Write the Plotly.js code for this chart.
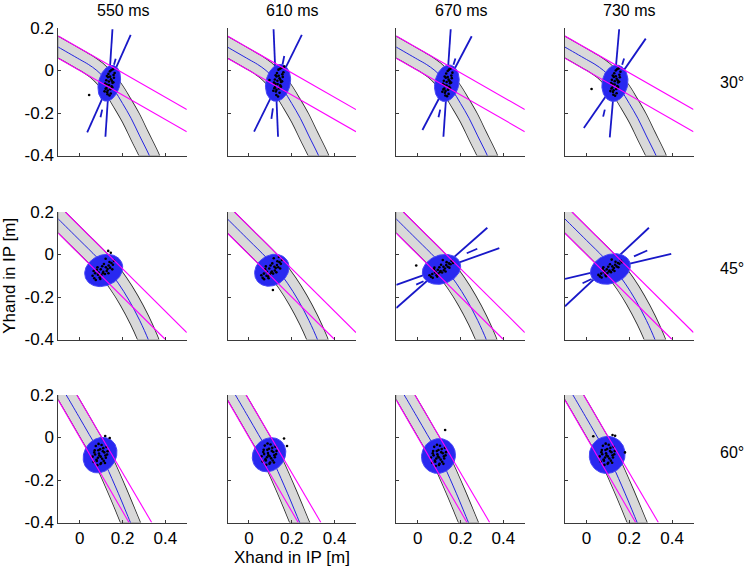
<!DOCTYPE html>
<html><head><meta charset="utf-8">
<script src="https://cdn.plot.ly/plotly-3.0.1.min.js"></script>
<style>html,body{margin:0;padding:0;background:#fff}#chart{width:748px;height:578px}</style>
</head><body><div id="chart"></div><script>
// ---------- labels / ticks ----------
const timeLabels = ['550 ms', '610 ms', '670 ms', '730 ms'];
const angleLabels = ['30°', '45°', '60°'];
const xTickVals = [0, 0.2, 0.4];
const xTickText = ['0', '0.2', '0.4'];
const yTickVals = [-0.4, -0.2, 0, 0.2];
const yTickText = ['-0.4', '-0.2', '0', '0.2'];
const xRange = [-0.1, 0.5];
const yRange = [-0.4, 0.2];

// ---------- corridor (band) centre lines, per target angle ----------
const bandX_30 = [-0.13, -0.1, 0.0, 0.04, 0.08, 0.12, 0.16, 0.2, 0.24, 0.28, 0.325, 0.345];
const bandY_30 = [0.127, 0.11, 0.052, 0.029, 0.0, -0.04, -0.09, -0.155, -0.225, -0.308, -0.4, -0.45];
const bandX_45 = [-0.13, -0.1, 0.0, 0.08, 0.13, 0.18, 0.23, 0.28, 0.32, 0.335];
const bandY_45 = [0.197, 0.167, 0.067, -0.013, -0.068, -0.135, -0.215, -0.31, -0.4, -0.44];
const bandX_60 = [-0.081, -0.063, -0.005, 0.045, 0.086, 0.122, 0.18, 0.237, 0.25];
const bandY_60 = [0.23, 0.2, 0.1, 0.013, -0.058, -0.13, -0.262, -0.4, -0.43];

// ---------- magenta boundary lines (two per angle: [x0,y0,x1,y1]) ----------
const magenta_30 = [[-0.1, 0.162, 0.5, -0.184], [-0.1, 0.058, 0.5, -0.288]];
const magenta_45 = [[-0.067, 0.2, 0.5, -0.367], [-0.1, 0.1, 0.4, -0.4]];
const magenta_60 = [[-0.1, 0.176, 0.23, -0.4], [-0.013, 0.2, 0.336, -0.4]];

// ---------- ellipses per panel: [cx, cy, semi-major, semi-minor, angle deg] ----------
const ell_30 = [[0.138, -0.06, 0.086, 0.05, 76], [0.136, -0.058, 0.088, 0.057, 78], [0.136, -0.06, 0.087, 0.056, 78], [0.133, -0.06, 0.086, 0.06, 80]];
const ell_45 = [[0.112, -0.075, 0.092, 0.072, 25], [0.107, -0.074, 0.085, 0.07, 35], [0.111, -0.07, 0.092, 0.067, 20], [0.112, -0.068, 0.096, 0.068, 20]];
const ell_60 = [[0.095, -0.083, 0.088, 0.074, 55], [0.094, -0.081, 0.085, 0.073, 50], [0.097, -0.087, 0.083, 0.078, 60], [0.097, -0.082, 0.088, 0.083, 70]];

// ---------- direction lines per panel: [x0,y0,x1,y1] ----------
const seg_30_550 = [[0.153, 0.194, 0.12, -0.312], [0.238, 0.168, 0.035, -0.291], [0.168, 0.055, 0.16, 0.027], [0.105, -0.184, 0.097, -0.22]];
const seg_30_610 = [[0.115, 0.194, 0.136, -0.312], [0.247, 0.168, 0.024, -0.288], [0.165, 0.068, 0.157, 0.028], [0.112, -0.178, 0.105, -0.228]];
const seg_30_670 = [[0.154, 0.194, 0.12, -0.312], [0.252, 0.161, 0.022, -0.28], [0.176, 0.057, 0.167, 0.027], [0.105, -0.184, 0.097, -0.22]];
const seg_30_730 = [[0.153, 0.194, 0.109, -0.315], [0.277, 0.15, -0.012, -0.271], [0.176, 0.057, 0.167, 0.027], [0.086, -0.184, 0.078, -0.217]];
const seg_45_670 = [[-0.1, -0.252, 0.325, 0.126], [-0.1, -0.143, 0.381, 0.03], [0.229, 0.006, 0.278, 0.027], [-0.007, -0.142, 0.027, -0.126]];
const seg_45_730 = [[-0.1, -0.244, 0.292, 0.126], [-0.1, -0.115, 0.396, 0.003], [0.222, -0.009, 0.284, 0.019], [-0.018, -0.135, 0.024, -0.115]];

// ---------- endpoint samples (black dots) per panel ----------
const dx11 = [0.125,0.132,0.141,0.150,0.158,0.128,0.137,0.146,0.155,0.119,0.130,0.143,0.160,0.134,0.149,0.124,0.139,0.153,0.121,0.163,0.116,0.127,0.145,0.136,0.152,0.131,0.148,0.126,0.157,0.142,0.044];
const dy11 = [-0.082,-0.031,-0.004,-0.048,-0.021,-0.102,-0.068,-0.041,0.006,-0.061,-0.112,-0.088,-0.034,-0.016,-0.074,-0.046,-0.118,-0.058,-0.086,-0.012,-0.098,-0.026,-0.108,-0.052,-0.079,-0.094,0.002,-0.066,-0.055,-0.029,-0.115];
const dx12 = [0.122,0.129,0.138,0.147,0.156,0.126,0.134,0.143,0.152,0.117,0.128,0.141,0.158,0.131,0.146,0.121,0.136,0.150,0.119,0.161,0.114,0.125,0.143,0.133,0.150,0.129,0.145,0.124,0.155,0.139,0.096,0.165];
const dy12 = [-0.078,-0.028,0.004,-0.044,-0.018,-0.099,-0.064,-0.037,0.012,-0.057,-0.115,-0.085,-0.03,-0.012,-0.07,-0.042,-0.122,-0.054,-0.083,-0.008,-0.095,-0.022,-0.105,-0.048,-0.076,-0.091,0.008,-0.062,-0.051,-0.025,-0.045,0.018];
const dx13 = [0.124,0.131,0.140,0.149,0.157,0.127,0.135,0.144,0.153,0.118,0.129,0.142,0.159,0.133,0.147,0.122,0.137,0.151,0.120,0.162,0.115,0.126,0.144,0.135,0.151,0.130,0.146,0.125,0.156,0.140];
const dy13 = [-0.085,-0.034,-0.002,-0.05,-0.024,-0.105,-0.071,-0.043,0.008,-0.063,-0.118,-0.09,-0.036,-0.014,-0.077,-0.048,-0.121,-0.06,-0.089,-0.01,-0.1,-0.028,-0.11,-0.054,-0.082,-0.096,0.004,-0.068,-0.057,-0.031];
const dx14 = [0.121,0.128,0.137,0.146,0.154,0.124,0.132,0.141,0.150,0.115,0.126,0.139,0.156,0.130,0.144,0.119,0.134,0.148,0.117,0.159,0.112,0.123,0.141,0.132,0.148,0.127,0.143,0.122,0.153,0.137,0.024];
const dy14 = [-0.08,-0.03,0.0,-0.046,-0.02,-0.101,-0.066,-0.039,0.01,-0.059,-0.114,-0.087,-0.032,-0.013,-0.073,-0.044,-0.119,-0.056,-0.085,-0.006,-0.097,-0.024,-0.107,-0.05,-0.078,-0.093,0.006,-0.064,-0.053,-0.027,-0.087];
const dx21 = [0.06,0.072,0.085,0.098,0.11,0.122,0.135,0.148,0.16,0.068,0.08,0.093,0.105,0.118,0.13,0.142,0.155,0.075,0.088,0.1,0.113,0.126,0.139,0.152,0.083,0.096,0.108,0.121,0.134,0.065,0.133,0.145];
const dy21 = [-0.1,-0.088,-0.095,-0.07,-0.082,-0.06,-0.052,-0.04,-0.03,-0.112,-0.072,-0.108,-0.055,-0.092,-0.068,-0.062,-0.048,-0.12,-0.085,-0.098,-0.045,-0.078,-0.035,-0.07,-0.06,-0.115,-0.088,-0.02,-0.088,-0.078,0.017,0.008];
const dx22 = [0.058,0.07,0.082,0.095,0.107,0.119,0.131,0.143,0.154,0.064,0.076,0.089,0.101,0.113,0.125,0.137,0.149,0.071,0.084,0.096,0.109,0.121,0.133,0.146,0.079,0.092,0.104,0.116,0.128,0.112,0.14];
const dy22 = [-0.098,-0.09,-0.1,-0.066,-0.08,-0.058,-0.05,-0.036,-0.026,-0.11,-0.07,-0.104,-0.052,-0.09,-0.064,-0.06,-0.044,-0.116,-0.082,-0.094,-0.042,-0.075,-0.032,-0.066,-0.056,-0.112,-0.086,-0.018,-0.084,-0.167,-0.012];
const dx23 = [0.055,0.068,0.081,0.094,0.107,0.12,0.133,0.146,0.158,0.062,0.075,0.088,0.101,0.114,0.127,0.14,0.153,0.07,0.083,0.096,0.109,0.122,0.135,0.148,0.078,0.091,0.104,0.117,0.13,0.165,-0.007];
const dy23 = [-0.098,-0.092,-0.085,-0.072,-0.078,-0.058,-0.05,-0.042,-0.03,-0.105,-0.07,-0.098,-0.06,-0.085,-0.066,-0.058,-0.046,-0.11,-0.08,-0.09,-0.048,-0.074,-0.036,-0.062,-0.062,-0.104,-0.082,-0.026,-0.08,-0.04,-0.052];
const dx24 = [0.056,0.069,0.082,0.095,0.108,0.121,0.134,0.147,0.16,0.063,0.076,0.089,0.102,0.115,0.128,0.141,0.154,0.071,0.084,0.097,0.11,0.123,0.136,0.149,0.079,0.092,0.105,0.118,0.131,0.166];
const dy24 = [-0.096,-0.09,-0.083,-0.07,-0.076,-0.056,-0.048,-0.04,-0.028,-0.103,-0.068,-0.096,-0.058,-0.083,-0.064,-0.056,-0.044,-0.108,-0.078,-0.088,-0.046,-0.072,-0.034,-0.06,-0.06,-0.102,-0.08,-0.024,-0.078,-0.036];
const dx31 = [0.06,0.07,0.08,0.09,0.1,0.11,0.12,0.13,0.065,0.075,0.085,0.095,0.105,0.115,0.125,0.072,0.082,0.092,0.102,0.112,0.122,0.068,0.078,0.088,0.098,0.108,0.118,0.128,0.087,0.097,0.119,0.14];
const dy31 = [-0.09,-0.06,-0.11,-0.075,-0.12,-0.05,-0.085,-0.065,-0.115,-0.04,-0.095,-0.055,-0.1,-0.07,-0.045,-0.08,-0.13,-0.085,-0.035,-0.11,-0.095,-0.07,-0.105,-0.03,-0.09,-0.065,-0.12,-0.08,-0.06,-0.125,0.007,-0.002];
const dx32 = [0.059,0.069,0.079,0.089,0.099,0.109,0.119,0.129,0.064,0.074,0.084,0.094,0.104,0.114,0.124,0.071,0.081,0.091,0.101,0.111,0.121,0.067,0.077,0.087,0.097,0.107,0.117,0.127,0.086,0.096,0.164,0.178];
const dy32 = [-0.088,-0.058,-0.108,-0.073,-0.118,-0.048,-0.083,-0.063,-0.113,-0.038,-0.093,-0.053,-0.098,-0.068,-0.043,-0.078,-0.128,-0.083,-0.033,-0.108,-0.093,-0.068,-0.103,-0.028,-0.088,-0.063,-0.118,-0.078,-0.058,-0.123,-0.005,-0.04];
const dx33 = [0.062,0.072,0.082,0.092,0.102,0.112,0.122,0.132,0.067,0.077,0.087,0.097,0.107,0.117,0.127,0.074,0.084,0.094,0.104,0.114,0.124,0.07,0.08,0.09,0.1,0.11,0.12,0.13,0.089,0.099,0.128];
const dy33 = [-0.094,-0.064,-0.114,-0.079,-0.124,-0.054,-0.089,-0.069,-0.119,-0.044,-0.099,-0.059,-0.104,-0.074,-0.049,-0.084,-0.134,-0.089,-0.039,-0.114,-0.099,-0.074,-0.109,-0.034,-0.094,-0.069,-0.124,-0.084,-0.064,-0.129,0.035];
const dx34 = [0.062,0.072,0.082,0.092,0.102,0.112,0.122,0.132,0.067,0.077,0.087,0.097,0.107,0.117,0.127,0.074,0.084,0.094,0.104,0.114,0.124,0.07,0.08,0.09,0.1,0.11,0.12,0.13,0.089,0.099,0.032,0.122,0.134,0.18];
const dy34 = [-0.089,-0.059,-0.109,-0.074,-0.119,-0.049,-0.084,-0.064,-0.114,-0.039,-0.094,-0.054,-0.099,-0.069,-0.044,-0.079,-0.129,-0.084,-0.034,-0.109,-0.094,-0.069,-0.104,-0.029,-0.089,-0.064,-0.119,-0.079,-0.059,-0.124,0.006,0.012,0.008,-0.07];

// ---------- assemble ----------
const bands = [[bandX_30, bandY_30], [bandX_45, bandY_45], [bandX_60, bandY_60]];
const magentas = [magenta_30, magenta_45, magenta_60];
const ellipses = [ell_30, ell_45, ell_60];
const segments = [[seg_30_550, seg_30_610, seg_30_670, seg_30_730], [[], [], seg_45_670, seg_45_730], [[], [], [], []]];
const dots = [[[dx11, dy11], [dx12, dy12], [dx13, dy13], [dx14, dy14]],
              [[dx21, dy21], [dx22, dy22], [dx23, dy23], [dx24, dy24]],
              [[dx31, dy31], [dx32, dy32], [dx33, dy33], [dx34, dy34]]];

const W = 748, H = 578;
const colLeft = [58.3, 227.5, 396.3, 565];
const plotW = 128.5;
const rowTop = [28, 212, 395];
const plotH = 127.5;
const bandPx = [18.2, 19.2, 17.8];
const FONT = 'Liberation Sans, Arial, Helvetica, sans-serif';

function segXY(list) {
  const x = [], y = [];
  list.forEach(s => { x.push(s[0], s[2], null); y.push(s[1], s[3], null); });
  return [x, y];
}
function ellipseXY(e) {
  const [cx, cy, a, b, ang] = e; const t = ang * Math.PI / 180;
  const x = [], y = [];
  for (let i = 0; i <= 90; i++) {
    const th = 2 * Math.PI * i / 90;
    const u = a * Math.cos(th), v = b * Math.sin(th);
    x.push(cx + u * Math.cos(t) - v * Math.sin(t));
    y.push(cy + u * Math.sin(t) + v * Math.cos(t));
  }
  return [x, y];
}

const traces = [];
const layout = {
  width: W, height: H, margin: {l: 0, r: 0, t: 0, b: 0},
  paper_bgcolor: '#fff', plot_bgcolor: '#fff', showlegend: false,
  font: {family: FONT, color: '#000', size: 15},
  annotations: []
};

for (let r = 0; r < 3; r++) {
  for (let c = 0; c < 4; c++) {
    const idx = r * 4 + c + 1;
    const xa = idx === 1 ? 'x' : 'x' + idx, ya = idx === 1 ? 'y' : 'y' + idx;
    const xk = idx === 1 ? 'xaxis' : 'xaxis' + idx, yk = idx === 1 ? 'yaxis' : 'yaxis' + idx;
    const common = {showgrid: false, zeroline: false, showline: true, linecolor: '#3a3a3a', linewidth: 1,
      ticks: 'inside', ticklen: 3, tickcolor: '#3a3a3a', tickfont: {size: 17, family: FONT, color: '#000'}, fixedrange: true};
    layout[xk] = Object.assign({}, common, {domain: [colLeft[c] / W, (colLeft[c] + plotW) / W], range: xRange,
      anchor: ya, tickvals: xTickVals, ticktext: xTickText, showticklabels: r === 2});
    layout[yk] = Object.assign({}, common, {domain: [1 - (rowTop[r] + plotH) / H, 1 - rowTop[r] / H], range: yRange,
      anchor: xa, tickvals: yTickVals, ticktext: yTickText, showticklabels: c === 0});

    const [bx, by] = bands[r];
    traces.push({x: bx, y: by, xaxis: xa, yaxis: ya, mode: 'lines', line: {color: '#2a2a2a', width: bandPx[r] + 1.6, shape: 'spline', smoothing: 1}, hoverinfo: 'skip'});
    traces.push({x: bx, y: by, xaxis: xa, yaxis: ya, mode: 'lines', line: {color: '#d9d9d9', width: bandPx[r], shape: 'spline', smoothing: 1}, hoverinfo: 'skip'});
    traces.push({x: bx, y: by, xaxis: xa, yaxis: ya, mode: 'lines', line: {color: '#2323e0', width: 1, shape: 'spline', smoothing: 1}, hoverinfo: 'skip'});

    const segs = segments[r][c];
    if (segs.length) {
      const [sx, sy] = segXY(segs);
      traces.push({x: sx, y: sy, xaxis: xa, yaxis: ya, mode: 'lines', line: {color: '#1818c8', width: 1.8}, connectgaps: false, hoverinfo: 'skip'});
    }
    const [ex, ey] = ellipseXY(ellipses[r][c]);
    traces.push({x: ex, y: ey, xaxis: xa, yaxis: ya, mode: 'lines', fill: 'toself', fillcolor: 'rgb(40,40,240)', line: {color: 'rgb(70,70,245)', width: 1}, hoverinfo: 'skip'});
    const [px, py] = dots[r][c];
    traces.push({x: px, y: py, xaxis: xa, yaxis: ya, mode: 'markers', marker: {color: '#000', size: 2.6}, hoverinfo: 'skip'});
    const [mx, my] = segXY(magentas[r]);
    traces.push({x: mx, y: my, xaxis: xa, yaxis: ya, mode: 'lines', line: {color: '#ff00ff', width: 1.1}, connectgaps: false, hoverinfo: 'skip'});
  }
}

timeLabels.forEach((t, c) => layout.annotations.push({text: t, xref: 'paper', yref: 'paper',
  x: (colLeft[c] + plotW / 2) / W, y: 1 - 10 / H, xanchor: 'center', yanchor: 'middle', showarrow: false, font: {size: 16}}));
const rowLabelY = [83, 268, 452];
angleLabels.forEach((t, r) => layout.annotations.push({text: t, xref: 'paper', yref: 'paper',
  x: 718 / W, y: 1 - rowLabelY[r] / H, xanchor: 'left', yanchor: 'middle', showarrow: false, font: {size: 16}}));
layout.annotations.push({text: 'Xhand in IP [m]', xref: 'paper', yref: 'paper', x: (colLeft[1] + plotW / 2) / W, y: 1 - 557 / H,
  xanchor: 'center', yanchor: 'middle', showarrow: false, font: {size: 17}});
layout.annotations.push({text: 'Yhand in IP [m]', xref: 'paper', yref: 'paper', x: 10 / W, y: 1 - (rowTop[1] + plotH / 2) / H,
  xanchor: 'center', yanchor: 'middle', textangle: -90, showarrow: false, font: {size: 17}});

Plotly.newPlot('chart', traces, layout, {displayModeBar: false, staticPlot: true});
</script></body></html>
